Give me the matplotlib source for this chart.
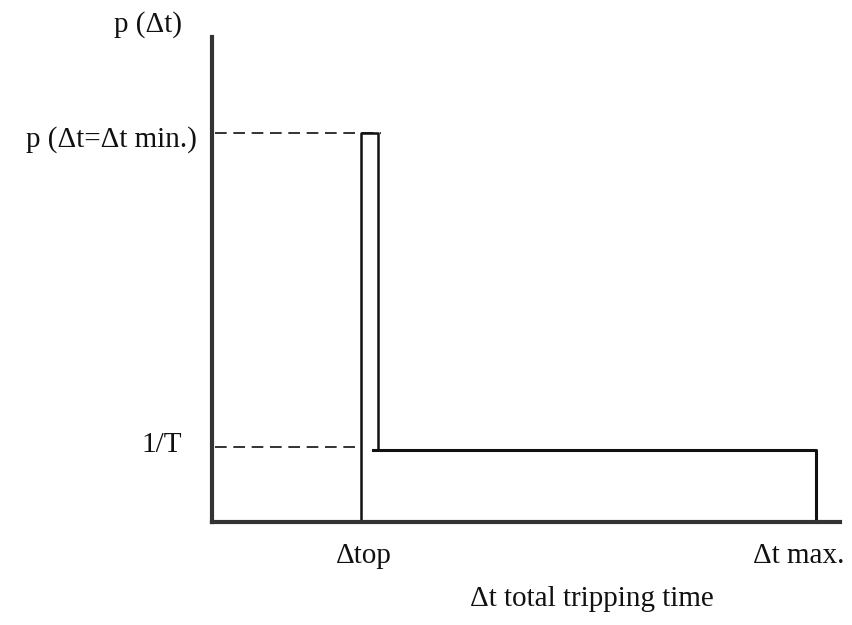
import matplotlib.pyplot as plt

# time axis (arbitrary units, origin at the y axis)
t_op = 1.0          # opening time
t_width = 0.11      # width of the peak
t_max = 4.05        # maximum tripping time
t_end = 4.21        # end of the drawn x axis

# probability density levels
p_flat = 1.0        # 1/T
p_peak = 5.4        # p(dt = dt min.)
p_top = 6.74        # top of the drawn y axis

FONT = "Liberation Serif"
INK = "#111111"


def main():
	fig = plt.figure(figsize=(8.52, 6.25), dpi=100)
	ax = fig.add_axes([212 / 852, 103 / 625, 628 / 852, 485 / 625])
	ax.set_xlim(0, t_end)
	ax.set_ylim(0, p_top)
	ax.set_xticks([])
	ax.set_yticks([])
	for side in ("top", "right"):
		ax.spines[side].set_visible(False)
	for side in ("left", "bottom"):
		ax.spines[side].set_linewidth(3.0)
		ax.spines[side].set_color("#333333")

	# density curve: tall narrow peak then a flat floor out to t_max
	ax.plot([t_op, t_op, t_op + t_width, t_op + t_width],
		[0, p_peak, p_peak, p_flat], color=INK, lw=1.8, clip_on=False)
	ax.plot([t_op + t_width * 0.75, t_max, t_max],
		[p_flat, p_flat, 0], color=INK, lw=2.2, clip_on=False)

	# guide lines back to the y axis
	ax.plot([0.02, t_op + t_width * 1.2], [p_peak, p_peak], color=INK, lw=1.2,
		ls=(0, (7, 4)))
	ax.plot([0.02, t_op], [p_flat * 1.04, p_flat * 1.04], color=INK, lw=1.2,
		ls=(0, (7, 4)))

	kw = dict(fontfamily=FONT, fontsize=21, color=INK, va="baseline")
	ax.text(-0.201, 6.81, "p (\u0394t)", ha="right", **kw)
	ax.text(-0.1, 5.21, "p (\u0394t=\u0394t min.)", ha="right", **kw)
	ax.text(-0.201, 0.97, "1/T", ha="right", **kw)
	ax.text(t_op + 0.02, -0.57, "\u0394top", ha="center", **kw)
	ax.text(4.24, -0.57, "\u0394t max.", ha="right", **kw)
	ax.text(1.73, -1.17, "\u0394t total tripping time", ha="left", **kw)

	fig.savefig("out.png", dpi=100)


if __name__ == '__main__':
	main()
